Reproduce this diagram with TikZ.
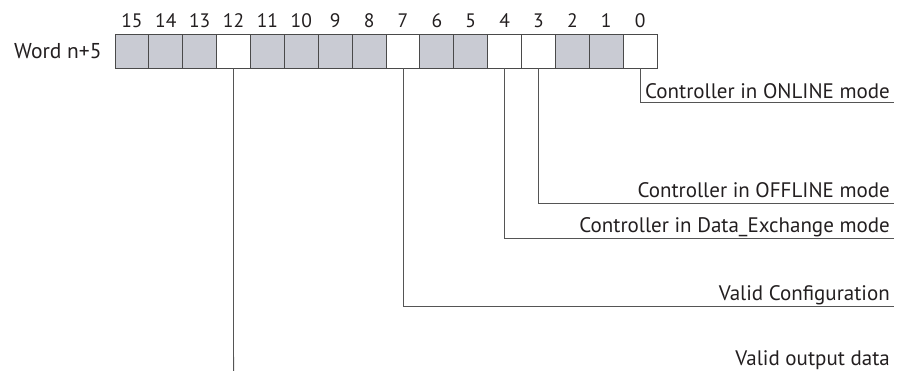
\documentclass[tikz,border=0pt]{standalone}
\usepackage{fontspec}
\setmainfont{PT Sans}
\definecolor{cellgray}{HTML}{C9CBD3}
\definecolor{boxline}{HTML}{4A4A4A}
\definecolor{connline}{HTML}{555555}
\definecolor{txt}{HTML}{231F20}
\begin{document}
\begin{tikzpicture}[x=1pt,y=-1pt,
  cell/.style={draw=boxline, line width=0.9pt, minimum width=33.875pt, minimum height=34pt, inner sep=0pt, outer sep=0pt, anchor=north west},
  grayc/.style={cell, fill=cellgray},
  whitec/.style={cell, fill=white},
  bitnum/.style={anchor=base, inner sep=0pt, font=\fontsize{19.5}{22}\selectfont, text=txt},
  lbl/.style={anchor=base east, inner sep=0pt, font=\fontsize{21}{24}\selectfont, text=txt},
  conn/.style={draw=connline, line width=0.8pt}]
\useasboundingbox (0,0) rectangle (906,371);
\node[lbl, font=\fontsize{21.5}{24}\selectfont] (word) at (101.7,59) {Word n+5};
\foreach \b/\s in {15/grayc,14/grayc,13/grayc,12/whitec,11/grayc,10/grayc,9/grayc,8/grayc,7/whitec,6/grayc,5/grayc,4/whitec,3/whitec,2/grayc,1/grayc,0/whitec}{
  \node[\s] (c\b) at ({115+(15-\b)*33.875},34.3) {};
  \node[bitnum] (n\b) at ({115+(15-\b)*33.875+16.94},27.7) {\b};
}
\node[lbl] (l0) at (890,98.3) {Controller in ONLINE mode};
\node[lbl] (l3) at (890,198) {Controller in OFFLINE mode};
\node[lbl] (l4) at (890,233) {Controller in Data\_Exchange mode};
\node[lbl] (l7) at (890,301) {Valid Configuration};
\node[lbl] (l12) at (890,365.5) {Valid output data};
\coordinate (e0) at (894,102.5);
\coordinate (e3) at (894,203);
\coordinate (e4) at (894,238);
\coordinate (e7) at (894,306);
\coordinate (e12) at (233.6,371);
\draw[conn] (c0.south) |- (e0);
\draw[conn] (c3.south) |- (e3);
\draw[conn] (c4.south) |- (e4);
\draw[conn] (c7.south) |- (e7);
\draw[conn] (c12.south) -- (e12);
\end{tikzpicture}
\end{document}
